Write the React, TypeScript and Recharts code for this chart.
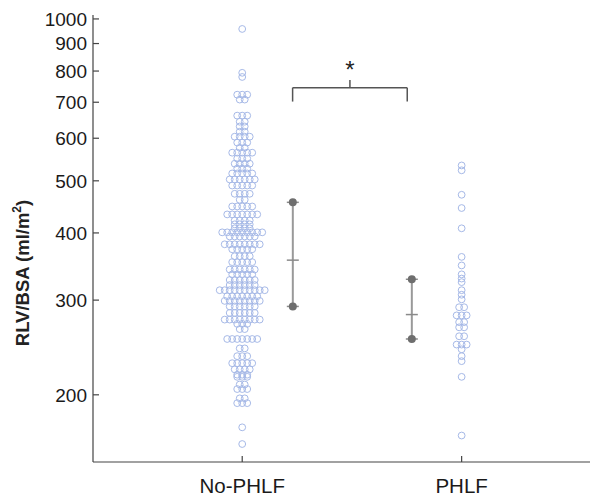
import {
  ErrorBar,
  ReferenceDot,
  ReferenceLine,
  Scatter,
  ScatterChart,
  XAxis,
  YAxis,
} from "recharts";

const groupNames = ["No-PHLF", "PHLF"];

// RLV/BSA (ml/m2) of each row of dots and how many dots sit on that row
const noPhlfRowValues = [
  958, 794, 780, 723, 708, 661, 644, 631, 617, 604, 589, 576, 564, 550, 538,
  527, 516, 503, 490, 473, 461, 448, 433, 422, 415, 408, 401, 394, 381, 373,
  362, 353, 342, 335, 327, 320, 313, 305, 299, 292, 284, 276, 271, 265, 254,
  244, 236, 229, 223, 218, 216, 209, 205, 197, 193, 174, 162,
];
const noPhlfRowCounts = [
  1, 1, 1, 3, 2, 3, 2, 2, 2, 4, 3, 2, 5, 3, 4,
  3, 5, 6, 5, 4, 2, 5, 7, 4, 4, 4, 9, 6, 8, 5,
  4, 5, 6, 5, 6, 6, 10, 7, 8, 6, 6, 8, 3, 2, 7,
  2, 3, 5, 4, 3, 3, 2, 3, 2, 3, 1, 1,
];

const phlfRowValues = [
  534, 523, 471, 445, 408, 361, 348, 335, 329, 324, 313, 307, 301, 291, 281,
  273, 267, 257, 248, 243, 236, 231, 216, 168,
];
const phlfRowCounts = [
  1, 1, 1, 1, 1, 1, 1, 1, 1, 1, 1, 1, 1, 2, 3,
  2, 2, 2, 3, 1, 1, 1, 1, 1,
];

// median with interquartile range
const summaryMedian = [356, 282];
const summaryLow = [292, 254];
const summaryHigh = [456, 328];

const yTicks = [200, 300, 400, 500, 600, 700, 800, 900, 1000];

const DOT_STEP = 0.0228;
const SUMMARY_X = [1.2306, 1.773];
const BRACKET_LEFT = 1.2297;
const BRACKET_RIGHT = 1.7521;
const BRACKET_MID = (BRACKET_LEFT + BRACKET_RIGHT) / 2;

function swarm(center: number, values: number[], counts: number[]) {
  const pts: { x: number; y: number }[] = [];
  values.forEach((v, i) => {
    const n = counts[i];
    for (let k = 0; k < n; k++) {
      pts.push({ x: center + (k - (n - 1) / 2) * DOT_STEP, y: v });
    }
  });
  return pts;
}

const noPhlfDots = swarm(1, noPhlfRowValues, noPhlfRowCounts);
const phlfDots = swarm(2, phlfRowValues, phlfRowCounts);

const medians = summaryMedian.map((m, i) => ({
  x: SUMMARY_X[i],
  y: m,
  err: [m - summaryLow[i], summaryHigh[i] - m],
}));
const quartileEnds = summaryMedian.flatMap((_, i) => [
  { x: SUMMARY_X[i], y: summaryLow[i] },
  { x: SUMMARY_X[i], y: summaryHigh[i] },
]);

const OpenDot = (p: any) => (
  <circle cx={p.cx} cy={p.cy} r={3.4} fill="none" stroke="#a6b9e7" strokeWidth={1} />
);

const MedianTick = (p: any) => (
  <line x1={p.cx - 6} x2={p.cx + 6} y1={p.cy} y2={p.cy} stroke="#8a8a8a" strokeWidth={1.5} />
);

const EndDot = (p: any) => (
  <g>
    <line x1={p.cx - 6} x2={p.cx + 6} y1={p.cy} y2={p.cy} stroke="#8a8a8a" strokeWidth={1.5} />
    <circle cx={p.cx} cy={p.cy} r={4} fill="#6e6e6e" />
  </g>
);

const Star = (p: any) => (
  <text x={p.cx} y={p.cy + 3} textAnchor="middle" fontSize={24} fill="#222">
    *
  </text>
);

const AxisTitle = () => (
  <text
    x={29}
    y={273}
    transform="rotate(-90, 29, 273)"
    textAnchor="middle"
    fontSize={18.5}
    fontWeight="bold"
    fill="#222"
  >
    RLV/BSA (ml/m
    <tspan fontSize={12} dy={-8}>
      2
    </tspan>
    <tspan dy={8}>)</tspan>
  </text>
);

const font = "'Liberation Sans', Arial, sans-serif";
const bracketStyle = { stroke: "#555", strokeWidth: 1.5 };

export default function App() {
  return (
    <div style={{ position: "absolute", left: 0, top: 0, width: 590, height: 498, background: "#fff" }}>
      <ScatterChart
        width={590}
        height={498}
        margin={{ top: 15, right: 0, bottom: 0, left: 0 }}
        style={{ fontFamily: font }}
      >
        <XAxis
          type="number"
          dataKey="x"
          domain={[0.32, 2.585]}
          allowDataOverflow
          ticks={[1, 2]}
          interval={0}
          tickFormatter={(v: number) => groupNames[v - 1] ?? ""}
          height={36}
          tickSize={-6}
          tickMargin={22}
          axisLine={{ stroke: "#444", strokeWidth: 1.2 }}
          tickLine={{ stroke: "#444", strokeWidth: 1.2 }}
          tick={{ fill: "#1a1a1a", fontSize: 20.5 }}
        />
        <YAxis
          type="number"
          dataKey="y"
          scale="log"
          domain={[150, 1017]}
          allowDataOverflow
          ticks={yTicks}
          interval={0}
          width={93}
          tickSize={-6}
          tickMargin={12}
          axisLine={{ stroke: "#444", strokeWidth: 1.2 }}
          tickLine={{ stroke: "#444", strokeWidth: 1.2 }}
          tick={{ fill: "#1a1a1a", fontSize: 19 }}
          label={<AxisTitle />}
        />
        <Scatter data={noPhlfDots} shape={OpenDot} isAnimationActive={false} />
        <Scatter data={phlfDots} shape={OpenDot} isAnimationActive={false} />
        <Scatter data={medians} shape={MedianTick} isAnimationActive={false}>
          <ErrorBar dataKey="err" direction="y" width={0} stroke="#999" strokeWidth={2} isAnimationActive={false} />
        </Scatter>
        <Scatter data={quartileEnds} shape={EndDot} isAnimationActive={false} />
        <ReferenceLine
          segment={[{ x: BRACKET_LEFT, y: 702 }, { x: BRACKET_LEFT, y: 745 }]}
          style={bracketStyle}
          ifOverflow="visible"
        />
        <ReferenceLine
          segment={[{ x: BRACKET_LEFT, y: 745 }, { x: BRACKET_RIGHT, y: 745 }]}
          style={bracketStyle}
          ifOverflow="visible"
        />
        <ReferenceLine
          segment={[{ x: BRACKET_RIGHT, y: 745 }, { x: BRACKET_RIGHT, y: 702 }]}
          style={bracketStyle}
          ifOverflow="visible"
        />
        <ReferenceLine
          segment={[{ x: BRACKET_MID, y: 745 }, { x: BRACKET_MID, y: 770 }]}
          style={bracketStyle}
          ifOverflow="visible"
        />
        <ReferenceDot x={BRACKET_MID} y={785} r={0} shape={Star} ifOverflow="visible" />
      </ScatterChart>
    </div>
  );
}
